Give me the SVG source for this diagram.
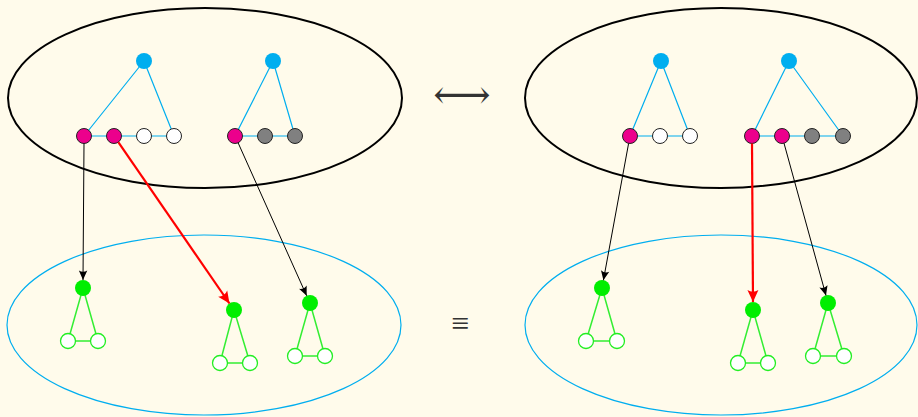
<svg xmlns="http://www.w3.org/2000/svg" width="918" height="417" viewBox="0 0 918 417">
<style>
.bg{fill:#fffbeb}
.outer{fill:none;stroke:#000;stroke-width:2}
.inner{fill:none;stroke:#00aeef;stroke-width:1.2}
.ce{stroke:#00aeef;stroke-width:1.2;fill:none}
.ge{stroke:#33ee33;stroke-width:1.5;fill:none}
.blue{fill:#00aeef}
.mag{fill:#ec008c;stroke:#222;stroke-width:1}
.wht{fill:#fff;stroke:#222;stroke-width:1}
.gry{fill:#808080;stroke:#222;stroke-width:1}
.grn{fill:#00ee00}
.gw{fill:#fff;stroke:#22ee22;stroke-width:1.3}
.ab{stroke:#000;stroke-width:1;fill:none}
.ar{stroke:#ff0000;stroke-width:2.2;fill:none}
.sym{font-family:"Liberation Serif","DejaVu Serif",serif;fill:#333}
</style>
<defs>
<marker id="hb" markerUnits="userSpaceOnUse" markerWidth="12" markerHeight="10" viewBox="-10 -5 12 10" refX="0" refY="0" orient="auto">
<path d="M0,0 L-9.5,-4.2 Q-6.8,0 -9.5,4.2 Z" fill="#000"/>
</marker>
<marker id="hr" markerUnits="userSpaceOnUse" markerWidth="16" markerHeight="14" viewBox="-14 -7 16 14" refX="0" refY="0" orient="auto">
<path d="M0,0 L-12,-5.5 Q-8.5,0 -12,5.5 Z" fill="#ff0000"/>
</marker>
</defs>
<rect class="bg" x="0" y="0" width="918" height="417"/>

<g id="ellipses">
<ellipse class="outer" cx="205" cy="98" rx="197" ry="90"/>
<ellipse class="outer" cx="721" cy="98" rx="196" ry="90"/>
<ellipse class="inner" cx="204" cy="325" rx="197" ry="90"/>
<ellipse class="inner" cx="721" cy="325" rx="196" ry="90"/>
</g>

<g id="symbols">
<text class="sym" x="462" y="108" font-size="40" text-anchor="middle" font-family="DejaVu Serif, serif">⟷</text>
<text class="sym" x="460" y="334" font-size="32" text-anchor="middle">≡</text>
</g>

<g id="graph-top-left-1">
<path class="ce" d="M144,61 L84,136 M144,61 L174,136 M84,136 L174,136"/>
<circle class="blue" cx="144" cy="61" r="8"/>
<circle class="mag" cx="84" cy="136" r="7.5"/>
<circle class="mag" cx="114" cy="136" r="7.5"/>
<circle class="wht" cx="144" cy="136" r="7.5"/>
<circle class="wht" cx="174" cy="136" r="7.5"/>
</g>
<g id="graph-top-left-2">
<path class="ce" d="M273,61 L235,136 M273,61 L295,136 M235,136 L295,136"/>
<circle class="blue" cx="273" cy="61" r="8"/>
<circle class="mag" cx="235" cy="136" r="7.5"/>
<circle class="gry" cx="265" cy="136" r="7.5"/>
<circle class="gry" cx="295" cy="136" r="7.5"/>
</g>
<g id="graph-top-right-1">
<path class="ce" d="M661,61 L630,136 M661,61 L690,136 M630,136 L690,136"/>
<circle class="blue" cx="661" cy="61" r="8"/>
<circle class="mag" cx="630" cy="136" r="7.5"/>
<circle class="wht" cx="660" cy="136" r="7.5"/>
<circle class="wht" cx="690" cy="136" r="7.5"/>
</g>
<g id="graph-top-right-2">
<path class="ce" d="M789,61 L752,136 M789,61 L843,136 M752,136 L843,136"/>
<circle class="blue" cx="789" cy="61" r="8"/>
<circle class="mag" cx="752" cy="136" r="7.5"/>
<circle class="mag" cx="782" cy="136" r="7.5"/>
<circle class="gry" cx="812" cy="136" r="7.5"/>
<circle class="gry" cx="843" cy="136" r="7.5"/>
</g>

<g id="graph-bottom-left-1">
<path class="ge" d="M83,288 L68,341 M83,288 L98,341 M68,341 L98,341"/>
<circle class="grn" cx="83" cy="288" r="8"/>
<circle class="gw" cx="68" cy="341" r="7.5"/>
<circle class="gw" cx="98" cy="341" r="7.5"/>
</g>
<g id="graph-bottom-left-2">
<path class="ge" d="M234,310 L220,363 M234,310 L250,363 M220,363 L250,363"/>
<circle class="grn" cx="234" cy="310" r="8"/>
<circle class="gw" cx="220" cy="363" r="7.5"/>
<circle class="gw" cx="250" cy="363" r="7.5"/>
</g>
<g id="graph-bottom-left-3">
<path class="ge" d="M310,303 L295,356 M310,303 L325,356 M295,356 L325,356"/>
<circle class="grn" cx="310" cy="303" r="8"/>
<circle class="gw" cx="295" cy="356" r="7.5"/>
<circle class="gw" cx="325" cy="356" r="7.5"/>
</g>
<g id="graph-bottom-right-1">
<path class="ge" d="M602,288 L586,341 M602,288 L617,341 M586,341 L617,341"/>
<circle class="grn" cx="602" cy="288" r="8"/>
<circle class="gw" cx="586" cy="341" r="7.5"/>
<circle class="gw" cx="617" cy="341" r="7.5"/>
</g>
<g id="graph-bottom-right-2">
<path class="ge" d="M753,310 L738,363 M753,310 L768,363 M738,363 L768,363"/>
<circle class="grn" cx="753" cy="310" r="8"/>
<circle class="gw" cx="738" cy="363" r="7.5"/>
<circle class="gw" cx="768" cy="363" r="7.5"/>
</g>
<g id="graph-bottom-right-3">
<path class="ge" d="M828,303 L813,356 M828,303 L844,356 M813,356 L844,356"/>
<circle class="grn" cx="828" cy="303" r="8"/>
<circle class="gw" cx="813" cy="356" r="7.5"/>
<circle class="gw" cx="844" cy="356" r="7.5"/>
</g>

<g id="connectors">
<line class="ab" x1="84" y1="143.5" x2="83" y2="280" marker-end="url(#hb)"/>
<line class="ar" x1="118.3" y1="142.2" x2="229.5" y2="303.5" marker-end="url(#hr)"/>
<line class="ab" x1="238.1" y1="142.8" x2="306.7" y2="295.8" marker-end="url(#hb)"/>
<line class="ab" x1="628.6" y1="143.4" x2="603.4" y2="280.3" marker-end="url(#hb)"/>
<line class="ar" x1="752" y1="143.5" x2="753" y2="302" marker-end="url(#hr)"/>
<line class="ab" x1="784" y1="143.2" x2="826" y2="295.5" marker-end="url(#hb)"/>
</g>
</svg>
